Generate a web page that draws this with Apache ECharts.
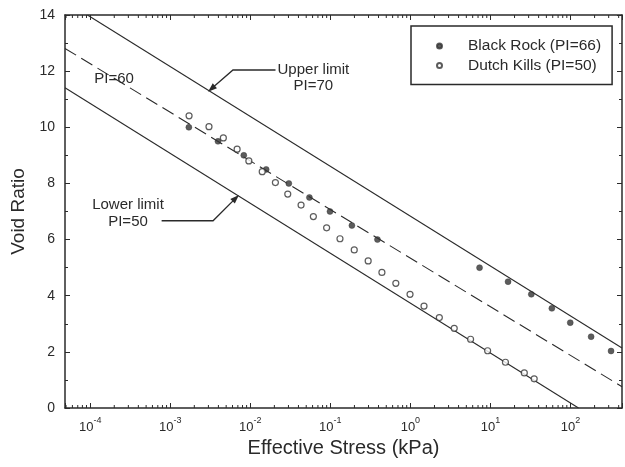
<!DOCTYPE html>
<html>
<head>
<meta charset="utf-8">
<script src="https://cdn.jsdelivr.net/npm/echarts@6/dist/echarts.min.js"></script>
<style>
html, body { margin: 0; padding: 0; background: #fff; }
#chart { width: 625px; height: 467px; }
</style>
</head>
<body>
<div id="chart"></div>
<script>
// Effective stress (kPa) and void ratio, Black Rock clay (PI=66)
const blackRockStress = [1.71e-3, 3.95e-3, 8.3e-3, 1.58e-2, 3.03e-2, 5.48e-2, 9.9e-2, 0.186, 0.388, 7.31, 16.6, 32.4, 58.5, 99.3, 181, 321];
const blackRockVoid   = [10.0, 9.5, 9.0, 8.5, 8.0, 7.5, 7.0, 6.5, 6.0, 5.0, 4.5, 4.05, 3.55, 3.04, 2.54, 2.03];

// Effective stress (kPa) and void ratio, Dutch Kills clay (PI=50)
const dutchKillsStress = [1.72e-3, 3.05e-3, 4.61e-3, 6.85e-3, 9.6e-3, 1.41e-2, 2.06e-2, 2.94e-2, 4.31e-2, 6.14e-2, 8.99e-2, 0.132, 0.199, 0.297, 0.441, 0.658, 0.99, 1.48, 2.30, 3.53, 5.65, 9.22, 15.4, 26.5, 35.2];
const dutchKillsVoid   = [10.41, 10.02, 9.62, 9.22, 8.80, 8.42, 8.03, 7.62, 7.23, 6.82, 6.42, 6.03, 5.63, 5.24, 4.83, 4.44, 4.05, 3.63, 3.22, 2.84, 2.45, 2.04, 1.63, 1.25, 1.04];

// Straight (semi-log) reference lines, given as [stress, void ratio] end points
const upperLimitLine = [[9.25e-5, 14], [440, 2.14]];
const pi60Line       = [[4.85e-5, 12.81], [440, 0.76]];
const lowerLimitLine = [[4.85e-5, 11.41], [126, 0]];

// Axis ranges and tick values
const stressMin = 4.85e-5;
const stressMax = 440;
const voidMin = 0, voidMax = 14, voidStep = 2;

const seriesNames = ['Black Rock (PI=66)', 'Dutch Kills (PI=50)'];

// Annotation anchors in data space [stress, void ratio]
const pi60LabelAt  = [1.99e-4, 11.72];
const upperLabelAt = [0.0614, 11.76];
const lowerLabelAt = [2.97e-4, 6.94];
const upperArrow = [[0.02067, 12.04], [6.08e-3, 12.04], [2.97e-3, 11.27]];
const lowerArrow = [[7.81e-4, 6.67], [3.43e-3, 6.67], [7.22e-3, 7.59]];

const FONT = '"Liberation Sans", Arial, Helvetica, sans-serif';
const INK = '#2a2a2a';

function zip(xs, ys) { return xs.map((x, i) => [x, ys[i]]); }

// minor ticks of the log axis: 2..9 within every decade
const minorStress = [];
for (let d = -5; d <= 3; d++) {
  for (let k = 2; k <= 9; k++) {
    const v = k * Math.pow(10, d);
    if (v > stressMin && v < stressMax) minorStress.push([v, 0]);
  }
}

const chart = echarts.init(document.getElementById('chart'), null, { renderer: 'canvas' });

const logAxisBase = {
  type: 'log',
  logBase: 10,
  min: stressMin,
  max: stressMax,
  splitNumber: 7,
  splitLine: { show: false },
  axisLine: { show: true, onZero: false, lineStyle: { color: INK, width: 1.5 } },
  axisTick: { show: true, inside: true, length: 5, lineStyle: { color: INK, width: 1 } }
};

const valueAxisBase = {
  type: 'value',
  min: voidMin,
  max: voidMax,
  interval: voidStep,
  splitLine: { show: false },
  axisLine: { show: true, onZero: false, lineStyle: { color: INK, width: 1.5 } },
  axisTick: { show: true, inside: true, length: 5, lineStyle: { color: INK, width: 1 } },
  minorTick: { show: true, splitNumber: 2, length: 3, lineStyle: { color: INK, width: 1 } }
};

chart.setOption({
  animation: false,
  backgroundColor: '#fff',
  textStyle: { fontFamily: FONT },
  grid: { left: 65, right: 2, top: 15, bottom: 59, containLabel: false },
  xAxis: [
    Object.assign({}, logAxisBase, {
      position: 'bottom',
      name: 'Effective Stress (kPa)',
      nameLocation: 'middle',
      nameGap: 27,
      nameTextStyle: { fontFamily: FONT, fontSize: 20, color: INK },
      axisLabel: {
        show: true,
        margin: 8,
        color: INK,
        fontFamily: FONT,
        showMinLabel: true,
        showMaxLabel: true,
        formatter: function (v) {
          const lg = Math.log10(v);
          const e = Math.round(lg);
          if (Math.abs(lg - e) > 1e-6) return '';
          return '{b|10}{s|' + e + '}';
        },
        rich: {
          b: { fontSize: 13, lineHeight: 18, verticalAlign: 'bottom', color: INK, fontFamily: FONT },
          s: { fontSize: 9, lineHeight: 11, verticalAlign: 'top', color: INK, fontFamily: FONT }
        }
      }
    }),
    Object.assign({}, logAxisBase, {
      position: 'top',
      axisLabel: { show: false }
    })
  ],
  yAxis: [
    Object.assign({}, valueAxisBase, {
      position: 'left',
      name: 'Void Ratio',
      nameLocation: 'middle',
      nameGap: 35,
      nameTextStyle: { fontFamily: FONT, fontSize: 19, color: INK },
      axisLabel: { show: true, margin: 10, fontSize: 14, color: INK, fontFamily: FONT }
    }),
    Object.assign({}, valueAxisBase, {
      position: 'right',
      axisLabel: { show: false }
    })
  ],
  legend: {
    data: seriesNames,
    orient: 'vertical',
    left: 411,
    top: 26,
    padding: [11, 11, 10, 25],
    itemWidth: 47,
    itemHeight: 5,
    itemGap: 1.5,
    borderColor: INK,
    borderWidth: 1.5,
    borderRadius: 0,
    backgroundColor: '#fff',
    selectedMode: false,
    textStyle: { fontFamily: FONT, fontSize: 15.5, lineHeight: 18, color: INK }
  },
  series: [
    {
      name: seriesNames[0],
      type: 'scatter',
      symbol: 'circle',
      symbolSize: 6,
      data: zip(blackRockStress, blackRockVoid),
      itemStyle: { color: '#333', borderColor: '#333', borderWidth: 0.5 },
      z: 5
    },
    {
      name: seriesNames[1],
      type: 'scatter',
      symbol: 'circle',
      symbolSize: 6,
      data: zip(dutchKillsStress, dutchKillsVoid),
      itemStyle: { color: '#fff', borderColor: '#333', borderWidth: 1.2 },
      z: 5
    },
    {
      name: 'Upper limit',
      type: 'line',
      data: upperLimitLine,
      symbol: 'none',
      lineStyle: { color: INK, width: 1.1 },
      z: 3
    },
    {
      name: 'PI=60',
      type: 'line',
      data: pi60Line,
      symbol: 'none',
      lineStyle: { color: INK, width: 1.1, type: [13, 6] },
      z: 3
    },
    {
      name: 'Lower limit',
      type: 'line',
      data: lowerLimitLine,
      symbol: 'none',
      lineStyle: { color: INK, width: 1.1 },
      z: 3
    },
    {
      name: 'minor ticks',
      type: 'custom',
      silent: true,
      data: minorStress,
      encode: { x: 0, y: 1 },
      clip: false,
      renderItem: function (params, api) {
        const v = api.value(0);
        const b = api.coord([v, voidMin]);
        const t = api.coord([v, voidMax]);
        const st = { stroke: INK, lineWidth: 1 };
        return {
          type: 'group',
          children: [
            { type: 'line', shape: { x1: b[0], y1: b[1], x2: b[0], y2: b[1] - 3 }, style: st },
            { type: 'line', shape: { x1: t[0], y1: t[1], x2: t[0], y2: t[1] + 3 }, style: st }
          ]
        };
      },
      z: 2
    }
  ]
});

// Text notes and arrows, placed from data-space anchors
function px(p) { return chart.convertToPixel({ xAxisIndex: 0, yAxisIndex: 0 }, p); }

function arrowElements(points) {
  const pts = points.map(px);
  const tip = pts[pts.length - 1];
  const prev = pts[pts.length - 2];
  const dx = tip[0] - prev[0], dy = tip[1] - prev[1];
  const len = Math.sqrt(dx * dx + dy * dy);
  const ux = dx / len, uy = dy / len;
  const headLen = 9, headHalf = 3.2;
  const bx = tip[0] - ux * headLen, by = tip[1] - uy * headLen;
  const head = [
    [tip[0], tip[1]],
    [bx - uy * headHalf, by + ux * headHalf],
    [bx + uy * headHalf, by - ux * headHalf]
  ];
  const shaft = pts.slice(0, -1).concat([[bx + ux * 2, by + uy * 2]]);
  return [
    { type: 'polyline', shape: { points: shaft }, style: { stroke: INK, lineWidth: 1.3, fill: null }, z: 10 },
    { type: 'polygon', shape: { points: head }, style: { fill: INK }, z: 10 }
  ];
}

function note(text, at) {
  const p = px(at);
  return {
    type: 'text',
    x: p[0],
    y: p[1],
    z: 10,
    style: {
      text: text,
      fontFamily: FONT,
      fontSize: 15,
      lineHeight: 16.5,
      fill: INK,
      align: 'center',
      verticalAlign: 'middle',
      backgroundColor: null
    }
  };
}

chart.setOption({
  graphic: [
    note('PI=60', pi60LabelAt),
    note('Upper limit\nPI=70', upperLabelAt),
    note('Lower limit\nPI=50', lowerLabelAt)
  ].concat(arrowElements(upperArrow), arrowElements(lowerArrow))
});
</script>
</body>
</html>
